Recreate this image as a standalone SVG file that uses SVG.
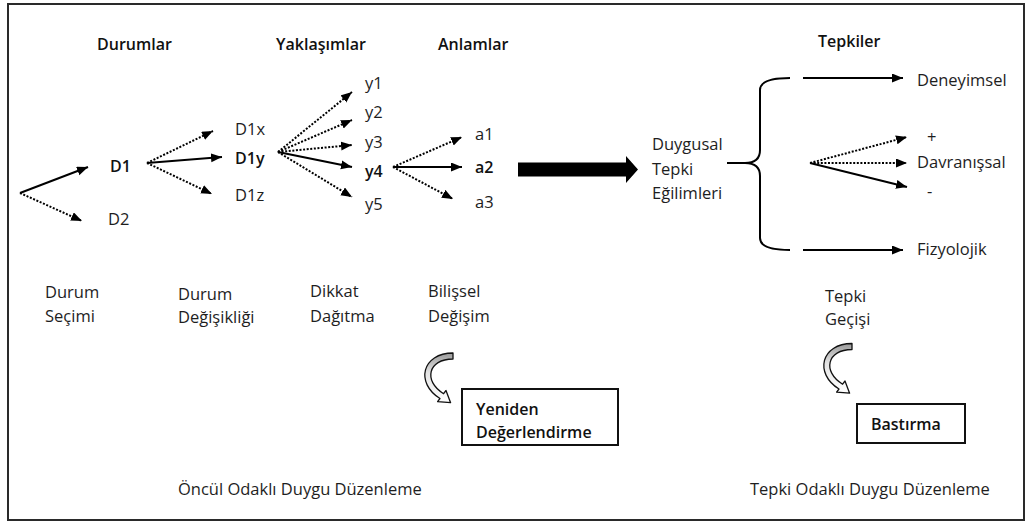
<svg xmlns="http://www.w3.org/2000/svg" width="1033" height="524" viewBox="0 0 1033 524">
  <style>
    .t { font-family: "Open Sans", "Liberation Sans", sans-serif; font-size: 16.5px; fill: #1e1e1e; }
    .b { font-weight: 600; font-size: 16px; fill: #111; }
    .solid { fill: none; stroke: #000; stroke-width: 2; }
    .dot { fill: none; stroke: #000; stroke-width: 2; stroke-dasharray: 2 1.6; }
    .box { fill: #fff; stroke: #111; stroke-width: 2; }
    .curl { fill: url(#curlFill); stroke: #111; stroke-width: 1.3; stroke-linejoin: round; }
  </style>
  <defs>
    <marker id="head" markerUnits="userSpaceOnUse" markerWidth="12" markerHeight="10" refX="11" refY="4.5" orient="auto">
      <path d="M0,0 L11,4.5 L0,9 Z" fill="#000"/>
    </marker>
    <linearGradient id="curlFill" x1="0" y1="0" x2="0" y2="1">
      <stop offset="0" stop-color="#9a9a9a"/>
      <stop offset="0.4" stop-color="#e4e4e4"/>
      <stop offset="1" stop-color="#ffffff"/>
    </linearGradient>
    <path id="curlShape" class="curl" d="M453,353 C422,353 415,383 440,398.5 L437.6,401.7 L450.6,402.7 L446,390.5 L443.6,393.7 C423,381 428,359 453,359 Z"/>
  </defs>

  <!-- frame -->
  <rect x="8" y="4" width="1016" height="516" fill="#fff" stroke="#2a2a2a" stroke-width="2"/>

  <!-- column headings -->
  <g id="headings">
    <text class="t b" x="97" y="50">Durumlar</text>
    <text class="t b" x="276" y="50">Yaklaşımlar</text>
    <text class="t b" x="438" y="50">Anlamlar</text>
    <text class="t b" x="818" y="47">Tepkiler</text>
  </g>

  <!-- connectors -->
  <g id="connectors">
    <line class="solid" x1="20" y1="193" x2="88" y2="167" marker-end="url(#head)"/>
    <line class="dot" x1="20" y1="193" x2="82" y2="221" marker-end="url(#head)"/>

    <line class="dot" x1="147" y1="163" x2="213" y2="131" marker-end="url(#head)"/>
    <line class="solid" x1="147" y1="163" x2="222" y2="157" marker-end="url(#head)"/>
    <line class="dot" x1="147" y1="163" x2="212" y2="194" marker-end="url(#head)"/>

    <line class="dot" x1="278" y1="152" x2="352" y2="92" marker-end="url(#head)"/>
    <line class="dot" x1="278" y1="152" x2="352" y2="120" marker-end="url(#head)"/>
    <line class="dot" x1="278" y1="152" x2="352" y2="145" marker-end="url(#head)"/>
    <line class="solid" x1="278" y1="152" x2="352" y2="167" marker-end="url(#head)"/>
    <line class="dot" x1="278" y1="152" x2="352" y2="197" marker-end="url(#head)"/>

    <line class="dot" x1="393" y1="167" x2="462" y2="137" marker-end="url(#head)"/>
    <line class="solid" x1="393" y1="167" x2="462" y2="167" marker-end="url(#head)"/>
    <line class="dot" x1="393" y1="167" x2="453" y2="199" marker-end="url(#head)"/>

    <!-- block arrow into the response tendencies -->
    <path d="M518,162.5 L626,162.5 L626,156 L638,169.5 L626,183 L626,176.5 L518,176.5 Z" fill="#000"/>

    <!-- brace -->
    <line class="solid" x1="727" y1="163" x2="746" y2="163"/>
    <path class="solid" d="M790,78 Q760,78 760,90 L760,150 Q760,163 745,163 Q760,163 760,176 L760,238 Q760,250 790,250"/>

    <line class="solid" x1="803" y1="78" x2="903" y2="78" marker-end="url(#head)"/>
    <line class="dot" x1="810" y1="163" x2="907" y2="137" marker-end="url(#head)"/>
    <line class="dot" x1="810" y1="163" x2="907" y2="163" marker-end="url(#head)"/>
    <line class="solid" x1="810" y1="163" x2="907" y2="187" marker-end="url(#head)"/>
    <line class="solid" x1="803" y1="250" x2="903" y2="250" marker-end="url(#head)"/>

    <!-- curved arrows toward the strategy boxes -->
    <use href="#curlShape"/>
    <use href="#curlShape" transform="translate(399,-9.5)"/>
  </g>

  <g id="situations">
    <text class="t b" x="110" y="172">D1</text>
    <text class="t" x="108" y="225">D2</text>
  </g>

  <g id="modifications">
    <text class="t" x="235" y="135">D1x</text>
    <text class="t b" x="235" y="164">D1y</text>
    <text class="t" x="235" y="201">D1z</text>
  </g>

  <g id="aspects">
    <text class="t" x="365" y="89">y1</text>
    <text class="t" x="365" y="118">y2</text>
    <text class="t" x="365" y="148">y3</text>
    <text class="t b" x="365" y="177">y4</text>
    <text class="t" x="365" y="210">y5</text>
  </g>

  <g id="meanings">
    <text class="t" x="475" y="140">a1</text>
    <text class="t b" x="475" y="173">a2</text>
    <text class="t" x="475" y="208">a3</text>
  </g>

  <g id="tendencies">
    <text class="t" x="652" y="150">Duygusal</text>
    <text class="t" x="652" y="175">Tepki</text>
    <text class="t" x="652" y="199">Eğilimleri</text>
  </g>

  <g id="responses">
    <text class="t" x="917" y="86">Deneyimsel</text>
    <text class="t" x="927" y="143">+</text>
    <text class="t" x="917" y="168">Davranışsal</text>
    <text class="t" x="927" y="197">-</text>
    <text class="t" x="917" y="255">Fizyolojik</text>
  </g>

  <g id="stages">
    <text class="t" x="45" y="298">Durum</text>
    <text class="t" x="45" y="322">Seçimi</text>
    <text class="t" x="178" y="300">Durum</text>
    <text class="t" x="178" y="323">Değişikliği</text>
    <text class="t" x="310" y="297">Dikkat</text>
    <text class="t" x="310" y="322">Dağıtma</text>
    <text class="t" x="428" y="297">Bilişsel</text>
    <text class="t" x="428" y="322">Değişim</text>
    <text class="t" x="825" y="302">Tepki</text>
    <text class="t" x="825" y="325">Geçişi</text>
  </g>

  <g id="reappraisal">
    <rect class="box" x="462" y="389" width="156" height="56"/>
    <text class="t b" x="476" y="415">Yeniden</text>
    <text class="t b" x="476" y="438">Değerlendirme</text>
  </g>

  <g id="suppression">
    <rect class="box" x="857" y="404" width="108" height="39"/>
    <text class="t b" x="871" y="430">Bastırma</text>
  </g>

  <g id="families">
    <text class="t" x="178" y="495">Öncül Odaklı Duygu Düzenleme</text>
    <text class="t" x="750" y="495">Tepki Odaklı Duygu Düzenleme</text>
  </g>
</svg>
